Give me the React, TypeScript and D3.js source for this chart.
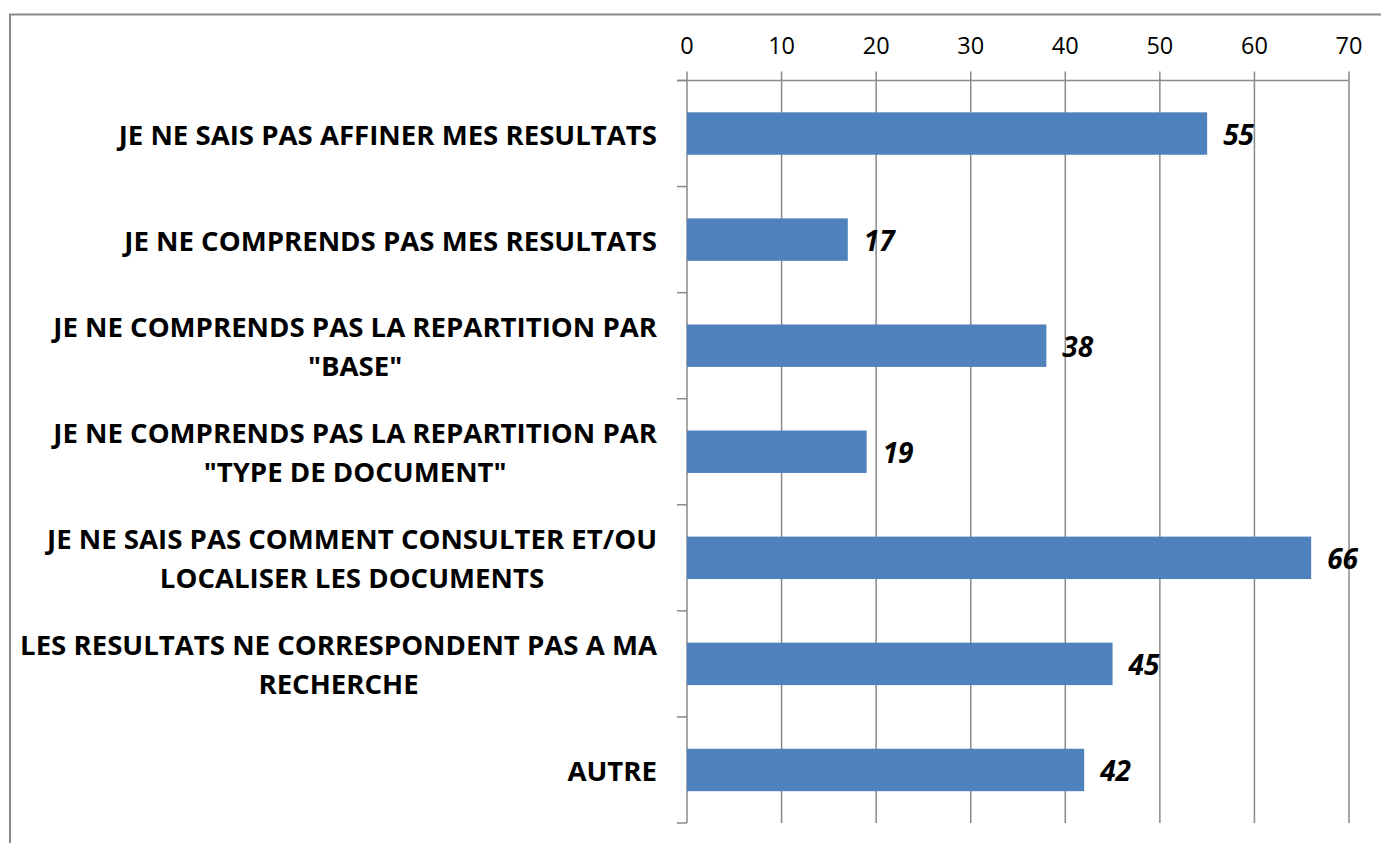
import React, { useEffect, useRef } from "react";
import * as d3 from "d3";

const categories: string[][] = [
  ["JE NE SAIS PAS AFFINER MES RESULTATS"],
  ["JE NE COMPRENDS PAS MES RESULTATS"],
  ["JE NE COMPRENDS PAS LA REPARTITION PAR", "\"BASE\""],
  ["JE NE COMPRENDS PAS LA REPARTITION PAR", "\"TYPE DE DOCUMENT\""],
  ["JE NE SAIS PAS COMMENT CONSULTER ET/OU", "LOCALISER LES DOCUMENTS"],
  ["LES RESULTATS NE CORRESPONDENT PAS A MA", "RECHERCHE"],
  ["AUTRE"],
];
const values: number[] = [55, 17, 38, 19, 66, 45, 42];
const xTicks: number[] = [0, 10, 20, 30, 40, 50, 60, 70];

const W = 1381;
const H = 843;
const FONT = "'Open Sans', sans-serif";

export default function App() {
  const ref = useRef<SVGSVGElement>(null);
  useEffect(() => {
    const svg = d3.select(ref.current);
    svg.selectAll("*").remove();
    const left = 687, right = 1349, top = 80.5, bottom = 823;
    const x = d3.scaleLinear().domain([0, 70]).range([left, right]);
    const idx = categories.map((_, i) => String(i));
    const y = d3.scaleBand().domain(idx).range([top, bottom]).paddingInner(0.6).paddingOuter(0.3);
    const step = y.step();
    const grey = "#8a8a8a";

    // frame
    svg.append("path").attr("d", `M10,${H} L10,14.5 L${W},14.5`).attr("fill", "none").attr("stroke", grey).attr("stroke-width", 2);

    // gridlines
    svg.selectAll(".grid").data(xTicks).join("line")
      .attr("x1", (d) => x(d)).attr("x2", (d) => x(d))
      .attr("y1", top - 9).attr("y2", bottom)
      .attr("stroke", grey).attr("stroke-width", 1.5);
    // top axis line
    svg.append("line").attr("x1", left - 10).attr("x2", right).attr("y1", top).attr("y2", top)
      .attr("stroke", grey).attr("stroke-width", 1.5);
    // category ticks
    const bounds = d3.range(categories.length + 1).map((i) => top + i * step);
    svg.selectAll(".ctick").data(bounds).join("line")
      .attr("x1", left - 10).attr("x2", left).attr("y1", (d) => d).attr("y2", (d) => d)
      .attr("stroke", grey).attr("stroke-width", 1.5);

    // tick labels
    svg.selectAll(".tl").data(xTicks).join("text")
      .attr("x", (d) => x(d)).attr("y", 54)
      .attr("text-anchor", "middle").attr("font-family", FONT).attr("font-size", 23.5)
      .attr("fill", "#000").text((d) => String(d));

    // bars
    svg.selectAll(".bar").data(values).join("rect")
      .attr("x", x(0)).attr("y", (_, i) => y(String(i))!)
      .attr("width", (d) => x(d) - x(0)).attr("height", y.bandwidth())
      .attr("fill", "#4F81BD");

    // value labels
    svg.selectAll(".vl").data(values).join("text")
      .attr("x", (d) => x(d) + 16).attr("y", (_, i) => y(String(i))! + y.bandwidth() / 2 + 11)
      .attr("font-family", FONT).attr("font-size", 28).attr("font-weight", 700).attr("font-style", "italic")
      .attr("fill", "#000").text((d) => String(d));

    // category labels
    const labelRight = 657;
    const lineH = 39;
    categories.forEach((lines, i) => {
      const cy = top + (i + 0.5) * step;
      const g = svg.append("g");
      const texts = lines.map((ln, j) => {
        const yy = cy + (j - (lines.length - 1) / 2) * lineH + 11;
        return g.append("text").attr("y", yy).attr("font-family", FONT).attr("font-size", 27.6)
          .attr("font-weight", 700).attr("fill", "#000").text(ln);
      });
      const widths = texts.map((t) => (t.node() as SVGTextElement).getComputedTextLength());
      const maxW = Math.max(...widths);
      const center = labelRight - maxW / 2;
      texts.forEach((t) => t.attr("x", center).attr("text-anchor", "middle"));
    });
  }, []);
  return (
    <svg ref={ref} width={W} height={H} style={{ position: "absolute", left: 0, top: 0, background: "#fff" }} />
  );
}
